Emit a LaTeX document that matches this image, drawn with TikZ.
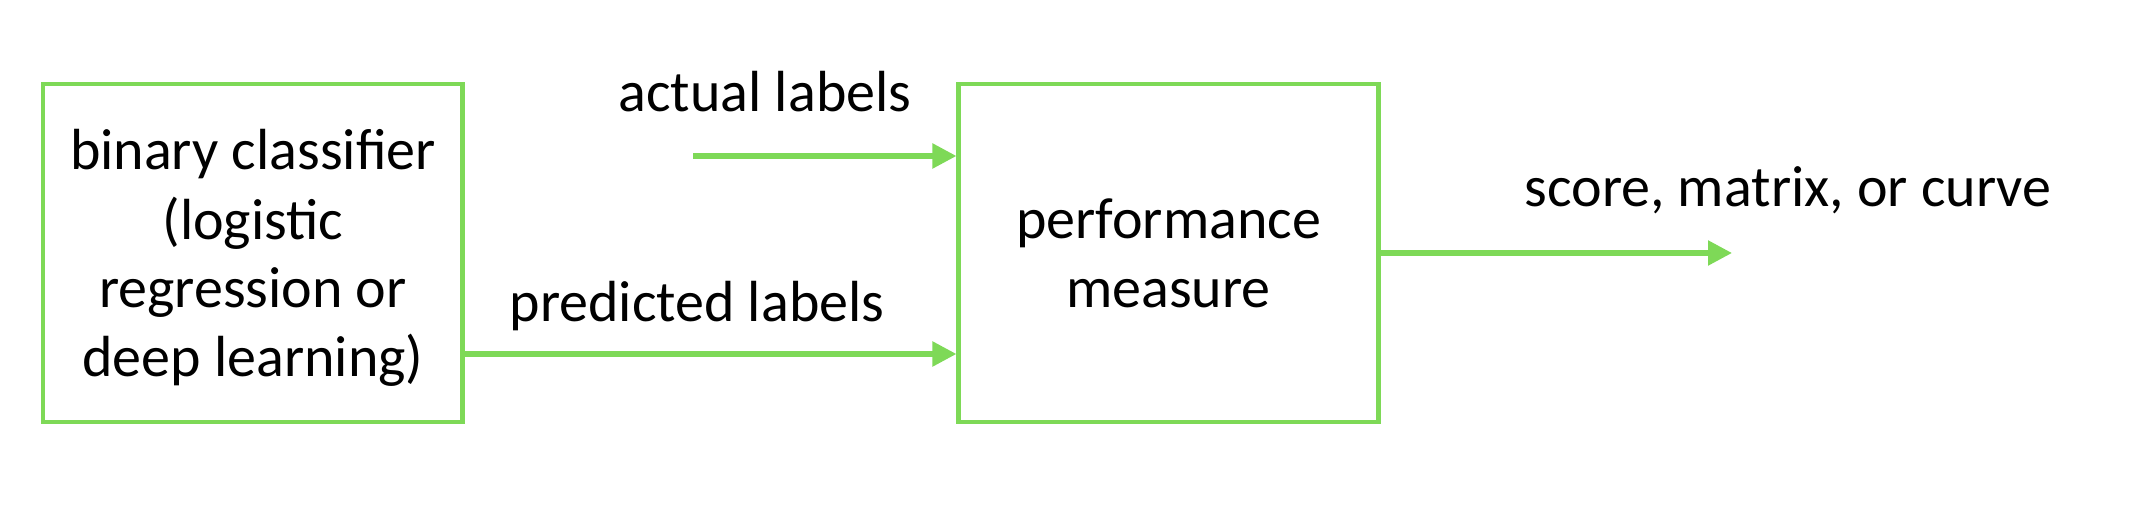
\documentclass[tikz,border=0pt]{standalone}
\usepackage{fontspec}
\setmainfont{Carlito}
\usetikzlibrary{arrows.meta}
\definecolor{lgreen}{RGB}{126,217,87}
\begin{document}
\begin{tikzpicture}[x=0.5pt,y=-0.5pt,
  box/.style={draw=lgreen, line width=2.3pt, inner sep=0pt,
    minimum width=209.75pt, minimum height=169pt},
  arr/.style={draw=lgreen, line width=2.6pt,
    -{Triangle[length=12pt,width=12pt]}},
  txt/.style={anchor=base, inner sep=0pt, font=\fontsize{29}{34.5}\selectfont}]
\useasboundingbox (0,0) rectangle (2134,506);
\node[box] (clf) at (252.75,253) {};
\node[box] (perf) at (1168.5,253) {};
% texts in boxes
\node[txt] (c1) at (253,170) {binary classifier};
\node[txt] (c2) at (253,240) {(logistic};
\node[txt] (c3) at (253,308) {regression or};
\node[txt] (c4) at (253,377) {deep learning)};
\node[txt] (p1) at (1168.5,239) {performance};
\node[txt] (p2) at (1168.5,308) {measure};
% labels
\node[txt] (al) at (765,112) {actual labels};
\node[txt] (pl) at (697,322) {predicted labels};
\node[txt] (sl) at (1788,207) {score, matrix, or curve};
% connectors
\coordinate (ya) at (693,156);
\coordinate (yp) at (0,354);
\coordinate (out) at (1732,253);
\draw[arr] (ya) -- (perf.west |- ya);
\draw[arr] (clf.east |- yp) -- (perf.west |- yp);
\draw[arr] (perf.east) -- (out);
\end{tikzpicture}
\end{document}
